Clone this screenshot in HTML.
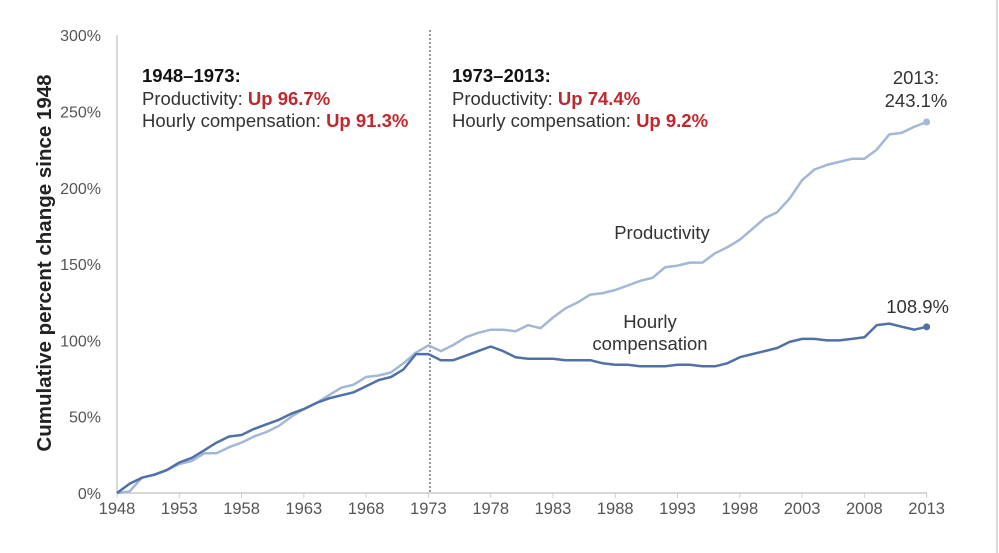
<!DOCTYPE html>
<html><head><meta charset="utf-8"><style>
body{margin:0;background:#fff;}
svg{display:block;font-family:"Liberation Sans",Arial,sans-serif;}
</style></head><body>
<svg id="s" width="999" height="553" viewBox="0 0 999 553">
<rect x="0" y="0" width="999" height="553" fill="#fff"/>
<line x1="997" y1="0" x2="997" y2="553" stroke="#ccc" stroke-width="1.5"/>
<line x1="117" y1="35" x2="117" y2="493" stroke="#ccc" stroke-width="1.5"/>
<line x1="117" y1="493" x2="927" y2="493" stroke="#ccc" stroke-width="1.5"/>
<g id="ticks"></g>
<line x1="430" y1="30" x2="430" y2="493" stroke="#333" stroke-width="1" stroke-dasharray="2,2"/>
<text transform="translate(51,263) rotate(-90)" text-anchor="middle" font-size="20.5" font-weight="bold" fill="#222">Cumulative percent change since 1948</text>
<g font-size="18.5" fill="#333">
<text x="142" y="82" font-weight="bold" fill="#111">1948–1973:</text>
<text x="142" y="105">Productivity: <tspan fill="#c0272d" font-weight="bold">Up 96.7%</tspan></text>
<text x="142" y="127">Hourly compensation: <tspan fill="#c0272d" font-weight="bold">Up 91.3%</tspan></text>
<text x="452" y="82" font-weight="bold" fill="#111">1973–2013:</text>
<text x="452" y="105">Productivity: <tspan fill="#c0272d" font-weight="bold">Up 74.4%</tspan></text>
<text x="452" y="127">Hourly compensation: <tspan fill="#c0272d" font-weight="bold">Up 9.2%</tspan></text>
<text x="916" y="84" text-anchor="middle">2013:</text>
<text x="916" y="107" text-anchor="middle">243.1%</text>
<text x="662" y="239" text-anchor="middle">Productivity</text>
<text x="650" y="328" text-anchor="middle">Hourly</text>
<text x="650" y="350" text-anchor="middle">compensation</text>
<text x="949" y="313" text-anchor="end">108.9%</text>
</g>
<path id="pp" fill="none" stroke="#a3b7d7" stroke-width="2.5" stroke-linejoin="round"/>
<path id="cp" fill="none" stroke="#4f71a6" stroke-width="2.5" stroke-linejoin="round"/>
<circle id="pd" r="3.5" fill="#a3b7d7"/>
<circle id="cd" r="3.5" fill="#4f71a6"/>
</svg>
<script>
var X=function(y){return 117+(y-1948)*12.456;},Y=function(v){return 493-v*1.526;};
var c=[0,6,10,12,15,20,23,28,33,37,38,42,45,48,52,55,59,62,64,66,70,74,76,81,91,91,87,87,90,93,96,93,89,88,88,88,87,87,87,85,84,84,83,83,83,84,84,83,83,85,89,91,93,95,99,101,101,100,100,101,102,110,111,109,107,108.9];
var p=[0,1,10,12,15,19,21,26,26,30,33,37,40,44,50,55,59,64,69,71,76,77,79,85,92,96.7,93,97,102,105,107,107,106,110,108,115,121,125,130,131,133,136,139,141,148,149,151,151,157,161,166,173,180,184,193,205,212,215,217,219,219,225,235,236,240,243.1];
function d(a){return a.map(function(v,i){return(i?"L":"M")+X(1948+i).toFixed(1)+","+Y(v).toFixed(1)}).join("");}
document.getElementById("pp").setAttribute("d",d(p));
document.getElementById("cp").setAttribute("d",d(c));
var pd=document.getElementById("pd");pd.setAttribute("cx",X(2013));pd.setAttribute("cy",Y(243.1));
var cd=document.getElementById("cd");cd.setAttribute("cx",X(2013));cd.setAttribute("cy",Y(108.9));
var g=document.getElementById("ticks"),h="";
for(var v=0;v<=300;v+=50){h+='<text x="101" y="'+(Y(v)+6)+'" text-anchor="end" font-size="16" fill="#555">'+v+'%</text>';}
for(var y=1948;y<=2013;y+=5){h+='<line x1="'+X(y)+'" y1="493" x2="'+X(y)+'" y2="498" stroke="#ccc"/><text x="'+X(y)+'" y="514" text-anchor="middle" font-size="16.5" fill="#555">'+y+'</text>';}
g.innerHTML=h;
</script>
</body></html>
